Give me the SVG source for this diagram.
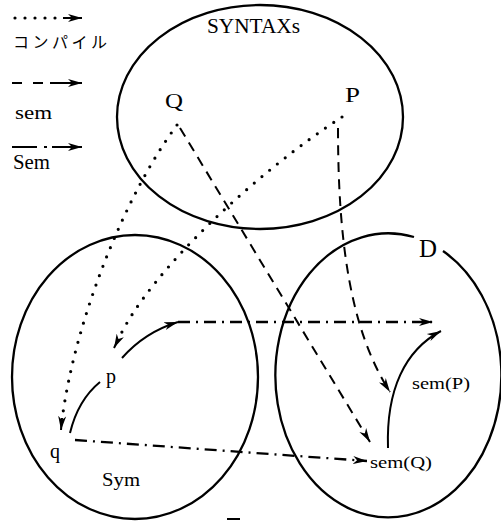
<svg xmlns="http://www.w3.org/2000/svg" width="501" height="521" viewBox="0 0 501 521">
<style>
.t{font-family:"Liberation Serif","Noto Sans CJK JP",serif;fill:#000}
.set{fill:none;stroke:#000;stroke-width:2.3}
.dot{fill:none;stroke:#000;stroke-width:3.2;stroke-linecap:round;stroke-dasharray:0 10}
.dash{fill:none;stroke:#000;stroke-width:2;stroke-dasharray:10 7}
.dd{fill:none;stroke:#000;stroke-width:2.3;stroke-dasharray:12 6 2 6}
.sol{fill:none;stroke:#000;stroke-width:2}
</style>
<defs>
<marker id="ah" markerUnits="userSpaceOnUse" markerWidth="16" markerHeight="10" refX="14" refY="5" orient="auto">
<path d="M0,1 L14,5 L0,9 L4,5 Z" fill="#000"/>
</marker>
</defs>
<rect width="501" height="521" fill="#fff"/>

<g id="legend">
<path class="dot" d="M15,18 L58,18"/>
<path class="sol" d="M63,18 L82,18" marker-end="url(#ah)"/>
<text class="t" x="13" y="48" font-size="16" textLength="94" lengthAdjust="spacing">コンパイル</text>
<path class="sol" d="M12,83 L22,83 M33,83 L43,83 M50,83 L82,83" marker-end="url(#ah)"/>
<text class="t" x="15" y="119" font-size="19" textLength="37" lengthAdjust="spacingAndGlyphs">sem</text>
<path class="sol" d="M12,147 L37,147 M44,147 L47,147 M52,147 L82,147" marker-end="url(#ah)"/>
<text class="t" x="13" y="169" font-size="20" textLength="37" lengthAdjust="spacingAndGlyphs">Sem</text>
</g>

<g id="syntaxs">
<ellipse class="set" cx="260" cy="117" rx="143" ry="112"/>
<text class="t" x="207" y="33" font-size="20" textLength="93" lengthAdjust="spacingAndGlyphs">SYNTAXs</text>
</g>
<g id="Q"><text class="t" x="165" y="108" font-size="22" textLength="18" lengthAdjust="spacingAndGlyphs">Q</text></g>
<g id="P"><text class="t" x="345" y="102" font-size="22" textLength="15" lengthAdjust="spacingAndGlyphs">P</text></g>

<g id="sym">
<ellipse class="set" cx="135" cy="377" rx="123" ry="142"/>
<text class="t" x="102" y="486" font-size="18" textLength="38" lengthAdjust="spacingAndGlyphs">Sym</text>
</g>
<g id="p"><text class="t" x="106" y="383" font-size="20">p</text></g>
<g id="q"><text class="t" x="50" y="458" font-size="20">q</text></g>

<g id="D">
<path class="set" d="M443,251 A113,142 0 1 1 414,237"/>
<text class="t" x="419" y="257" font-size="26" textLength="18" lengthAdjust="spacingAndGlyphs">D</text>
</g>
<g id="semP"><text class="t" x="412" y="389" font-size="17" textLength="58" lengthAdjust="spacingAndGlyphs">sem(P)</text></g>
<g id="semQ"><text class="t" x="370" y="468" font-size="17" textLength="62" lengthAdjust="spacingAndGlyphs">sem(Q)</text></g>

<g id="connectors">
<path class="dot" d="M177,125 C125,195 75,320 62,420"/>
<path class="sol" d="M62,418 L61,430" marker-end="url(#ah)"/>
<path class="dot" d="M342,117 C260,170 150,270 118,340"/>
<path class="sol" d="M118,340 L114,348" marker-end="url(#ah)"/>
<path class="dash" d="M180,128 L370,442" marker-end="url(#ah)"/>
<path class="dash" d="M338,128 C338,240 350,330 390,392" marker-end="url(#ah)"/>
<path class="dd" d="M178,322 L433,322" marker-end="url(#ah)"/>
<path class="dd" d="M75,440 L367,461" marker-end="url(#ah)"/>
<path class="sol" d="M122,358 Q145,332 178,322" marker-end="url(#ah)"/>
<path class="sol" d="M70,433 Q78,400 100,382"/>
<path class="sol" d="M388,448 C386,390 405,350 441,331" marker-end="url(#ah)"/>
</g>
<path d="M227,519 L240,519" stroke="#000" stroke-width="2"/>
</svg>
